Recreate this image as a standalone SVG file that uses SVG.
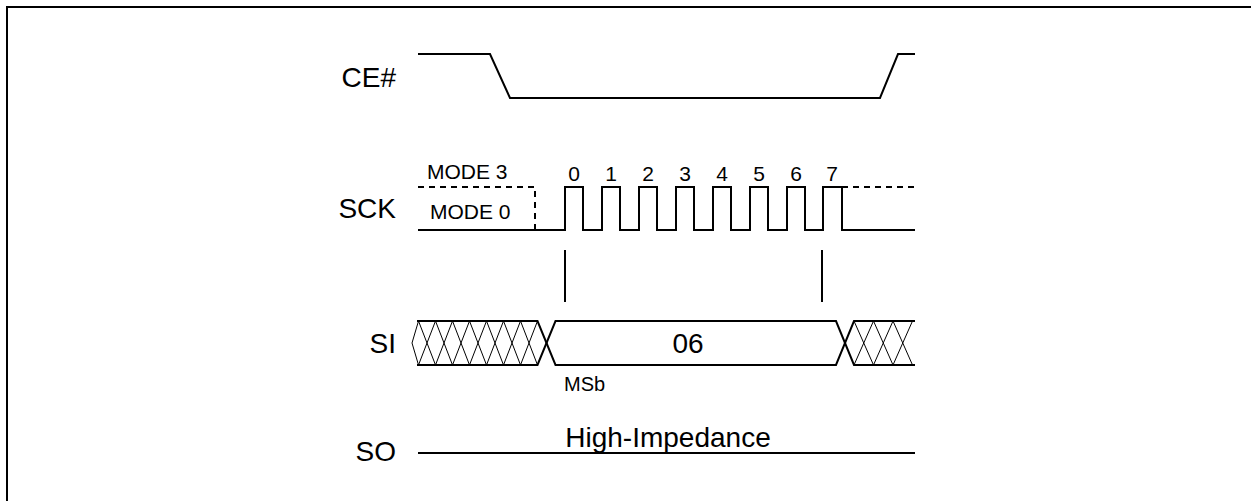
<svg xmlns="http://www.w3.org/2000/svg" width="1251" height="501" viewBox="0 0 1251 501">
<style>
text{font-family:"Liberation Sans",Arial,sans-serif;fill:#000}
.lbl{font-size:28px;text-anchor:end}
.sig{fill:none;stroke:#000;stroke-width:2;stroke-linejoin:miter}
.dash{fill:none;stroke:#000;stroke-width:2;stroke-dasharray:6,5}
.hatch{fill:none;stroke:#000;stroke-width:1}
.num{font-size:21px;text-anchor:middle}
.mode{font-size:21px}
</style>
<rect width="1251" height="501" fill="#fff"/>
<g id="frame"><path class="sig" d="M7,501 V7 H1251" stroke-width="2.5"/></g>
<g id="ce">
<text class="lbl" x="396" y="87">CE#</text>
<path class="sig" d="M418,54 H490 L510,98 H880 L898,54 H915"/>
</g>
<g id="sck">
<text class="lbl" x="396" y="218">SCK</text>
<text class="mode" x="427" y="179">MODE 3</text>
<text class="mode" x="430" y="219">MODE 0</text>
<path class="dash" d="M418,187 H535 V230"/>
<path class="sig" d="M418,230 H565 V187 H583 V230 H602 V187 H620 V230 H639 V187 H657 V230 H676 V187 H694 V230 H713 V187 H731 V230 H750 V187 H768 V230 H787 V187 H805 V230 H823 V187 H842 V230 H915"/>
<path class="dash" d="M842,187 H915"/>
<g class="num">
<text x="574" y="181">0</text><text x="611" y="181">1</text><text x="648" y="181">2</text><text x="685" y="181">3</text>
<text x="722" y="181">4</text><text x="759" y="181">5</text><text x="796" y="181">6</text><text x="832" y="181">7</text>
</g>
</g>
<g id="connectors">
<path class="sig" d="M565,250 V302 M822,250 V302" stroke-width="1.5"/>
</g>
<g id="si">
<text class="lbl" x="396" y="353">SI</text>
<path class="hatch" d="M418.5,321 L412,343 L418.5,365
M418.5,321 L435.5,365 M418.5,365 L435.5,321
M435.5,321 L452.5,365 M435.5,365 L452.5,321
M452.5,321 L469.5,365 M452.5,365 L469.5,321
M469.5,321 L486.5,365 M469.5,365 L486.5,321
M486.5,321 L503.5,365 M486.5,365 L503.5,321
M503.5,321 L520.5,365 M503.5,365 L520.5,321
M520.5,321 L537.5,365 M520.5,365 L537.5,321"/>
<path class="sig" d="M417,321 H537.5 L555.5,365 H836 L854,321 H915"/>
<path class="sig" d="M417,365 H537.5 L555.5,321 H836 L854,365 H915"/>
<path class="hatch" d="M854,321 L873.5,365 M854,365 L873.5,321
M873.5,321 L893,365 M873.5,365 L893,321
M893,321 L912.5,365 M893,365 L912.5,321"/>
<text x="688" y="353" font-size="28" text-anchor="middle">06</text>
<text x="564" y="391" font-size="20">MSb</text>
</g>
<g id="so">
<text class="lbl" x="396" y="461">SO</text>
<path class="sig" d="M418,453 H915"/>
<text x="668" y="447" font-size="28" text-anchor="middle">High-Impedance</text>
</g>
</svg>
